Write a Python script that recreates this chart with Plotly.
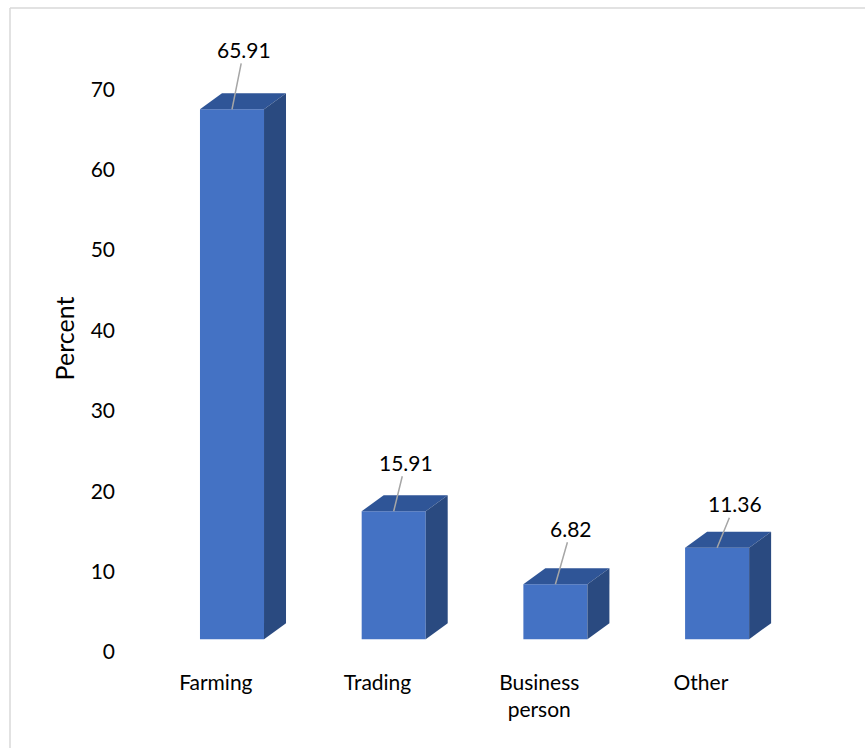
import plotly.graph_objects as go

# Occupation shares (percent)
categories = ["Farming", "Trading", "Business<br>person", "Other"]
values = [65.91, 15.91, 6.82, 11.36]
y_ticks = [0, 10, 20, 30, 40, 50, 60, 70]

# Pseudo-3D column geometry, in axis units
BAR_W = 0.396        # front face width
DEPTH_X = 0.136      # receding offset along x
DEPTH_Y = 1.99       # receding offset along y
LIFT = 1.6           # front face sits slightly above the axis floor
LABEL_SHIFT = -0.10  # category labels sit left of the column fronts

FRONT = "#4472C4"
TOP = "#2F5597"
SIDE = "#2A4A80"
FONT = "Lato"

W, H = 865, 748
L, R, T, B = 116, 20, 25, 96

xs = list(range(len(categories)))
fig = go.Figure()

# front faces
fig.add_trace(go.Bar(
    x=xs, y=values, base=LIFT, width=BAR_W,
    marker=dict(color=FRONT, line=dict(width=0)),
    hoverinfo="skip", showlegend=False,
))

# top and side faces as parallelograms
for x, v in zip(xs, values):
    x0, x1 = x - BAR_W / 2, x + BAR_W / 2
    top = v + LIFT
    fig.add_trace(go.Scatter(
        x=[x0, x1, x1 + DEPTH_X, x0 + DEPTH_X, x0],
        y=[top, top, top + DEPTH_Y, top + DEPTH_Y, top],
        fill="toself", fillcolor=TOP, mode="lines",
        line=dict(width=0, color=TOP), hoverinfo="skip", showlegend=False,
    ))
    fig.add_trace(go.Scatter(
        x=[x1, x1, x1 + DEPTH_X, x1 + DEPTH_X, x1],
        y=[LIFT, top, top + DEPTH_Y, LIFT + DEPTH_Y, LIFT],
        fill="toself", fillcolor=SIDE, mode="lines",
        line=dict(width=0, color=SIDE), hoverinfo="skip", showlegend=False,
    ))

# value labels with leader lines
label_offsets = [(12, -60), (12, -49), (16, -56), (18, -44)]
for x, v, (ax, ay) in zip(xs, values, label_offsets):
    fig.add_annotation(
        x=x, y=v + LIFT, text=f"{v:.2f}",
        showarrow=True, arrowhead=0, arrowwidth=1.5, arrowcolor="#A6A6A6",
        ax=ax, ay=ay, font=dict(family=FONT, size=21, color="#000000"),
    )

# outer frame (left and top edges)
pw, ph = W - L - R, H - T - B
fx = (10 - L) / pw
fy = (H - 8 - B) / ph
fig.add_shape(type="line", xref="paper", yref="paper",
              x0=fx, y0=-B / ph, x1=fx, y1=fy,
              line=dict(color="#D9D9D9", width=1.5))
fig.add_shape(type="line", xref="paper", yref="paper",
              x0=fx, y0=fy, x1=(W - L) / pw, y1=fy,
              line=dict(color="#D9D9D9", width=1.5))

fig.update_layout(
    width=W, height=H,
    margin=dict(l=L, r=R, t=T, b=B),
    plot_bgcolor="white", paper_bgcolor="white",
    font=dict(family=FONT, size=21, color="#000000"),
    xaxis=dict(
        range=[-(232 - L) / 161.7, (W - R - 232) / 161.7],
        tickvals=[x + LABEL_SHIFT for x in xs], ticktext=categories,
        showgrid=False, zeroline=False, showline=False, ticks="",
        ticklabelstandoff=16,
    ),
    yaxis=dict(
        range=[0, 78], tickvals=y_ticks,
        showgrid=False, zeroline=False, showline=False, ticks="",
        title=dict(text="Percent", standoff=8),
    ),
)

fig.write_html("out.html")
